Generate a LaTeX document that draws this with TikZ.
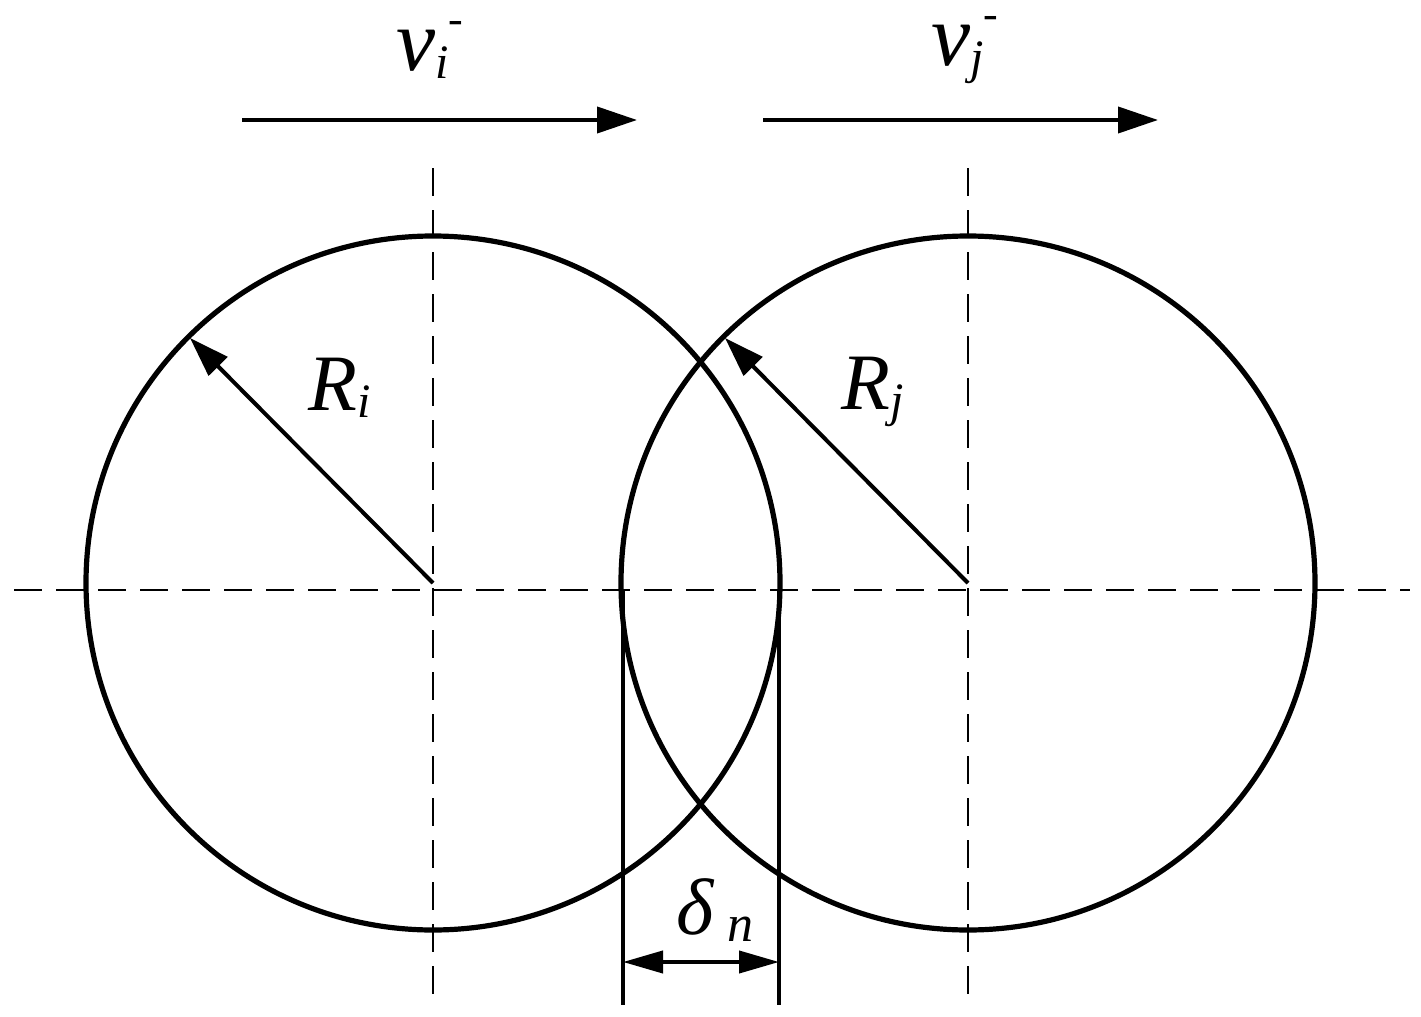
\documentclass[tikz,border=0pt]{standalone}
\usepackage{fontspec}
\setmainfont{Liberation Serif}
\usetikzlibrary{arrows.meta}
\begin{document}
\begin{tikzpicture}[x=0.5pt,y=-0.5pt,
  thick line/.style={line width=2.6pt},
  dash line/.style={line width=1.3pt,dash pattern=on 14pt off 7pt},
  arr/.style={line width=2pt,-{Triangle[length=20pt,width=13pt]}},
  lbl/.style={font=\fontsize{40}{42}\selectfont\itshape,inner sep=0pt}]
\useasboundingbox (0,0) rectangle (1421,1017);
\coordinate (ci) at (433,583);
\coordinate (cj) at (968,583);
\draw[thick line] (ci) circle[radius=347];
\draw[thick line] (cj) circle[radius=347];
\draw[dash line] (14,590) -- (1410,590);
\draw[dash line] (433,168) -- (433,1005);
\draw[dash line] (968,168) -- (968,1005);
\coordinate (a1) at (242,120); \coordinate (a2) at (637,120);
\coordinate (b1) at (763,120); \coordinate (b2) at (1158,120);
\draw[arr] (a1) -- (a2);
\draw[arr] (b1) -- (b2);
\node[lbl] (vi) at (430,50) {\fontsize{44}{44}\selectfont v\raisebox{-0.2ex}{\fontsize{24}{24}\selectfont i}\raisebox{0.9ex}{\fontsize{22}{22}\selectfont\upshape -}};
\node[lbl] (vj) at (965,50) {\fontsize{44}{44}\selectfont v\raisebox{-0.2ex}{\fontsize{24}{24}\selectfont j}\raisebox{0.9ex}{\fontsize{22}{22}\selectfont\upshape -}};
\coordinate (ri) at (190,338); \coordinate (rj) at (725,338);
\draw[arr] (ci) -- (ri);
\draw[arr] (cj) -- (rj);
\node[lbl] (Ri) at (340,388) {R\raisebox{-0.2ex}{\fontsize{24}{24}\selectfont i}};
\node[lbl] (Rj) at (873,392) {R\raisebox{-0.2ex}{\fontsize{24}{24}\selectfont j}};
\coordinate (l1) at (623,590); \coordinate (l2) at (623,1005);
\coordinate (m1) at (779,590); \coordinate (m2) at (779,1005);
\draw[line width=1.8pt] (l1) -- (l2);
\draw[line width=1.8pt] (m1) -- (m2);
\coordinate (d1) at (623,962); \coordinate (d2) at (779,962);
\draw[line width=2pt,{Triangle[length=20pt,width=11pt]}-{Triangle[length=20pt,width=11pt]}] (d1) -- (d2);
\node[lbl] (dn) at (715,910) {δ\,\raisebox{-0.2ex}{\fontsize{26}{26}\selectfont n}};
\end{tikzpicture}
\end{document}
